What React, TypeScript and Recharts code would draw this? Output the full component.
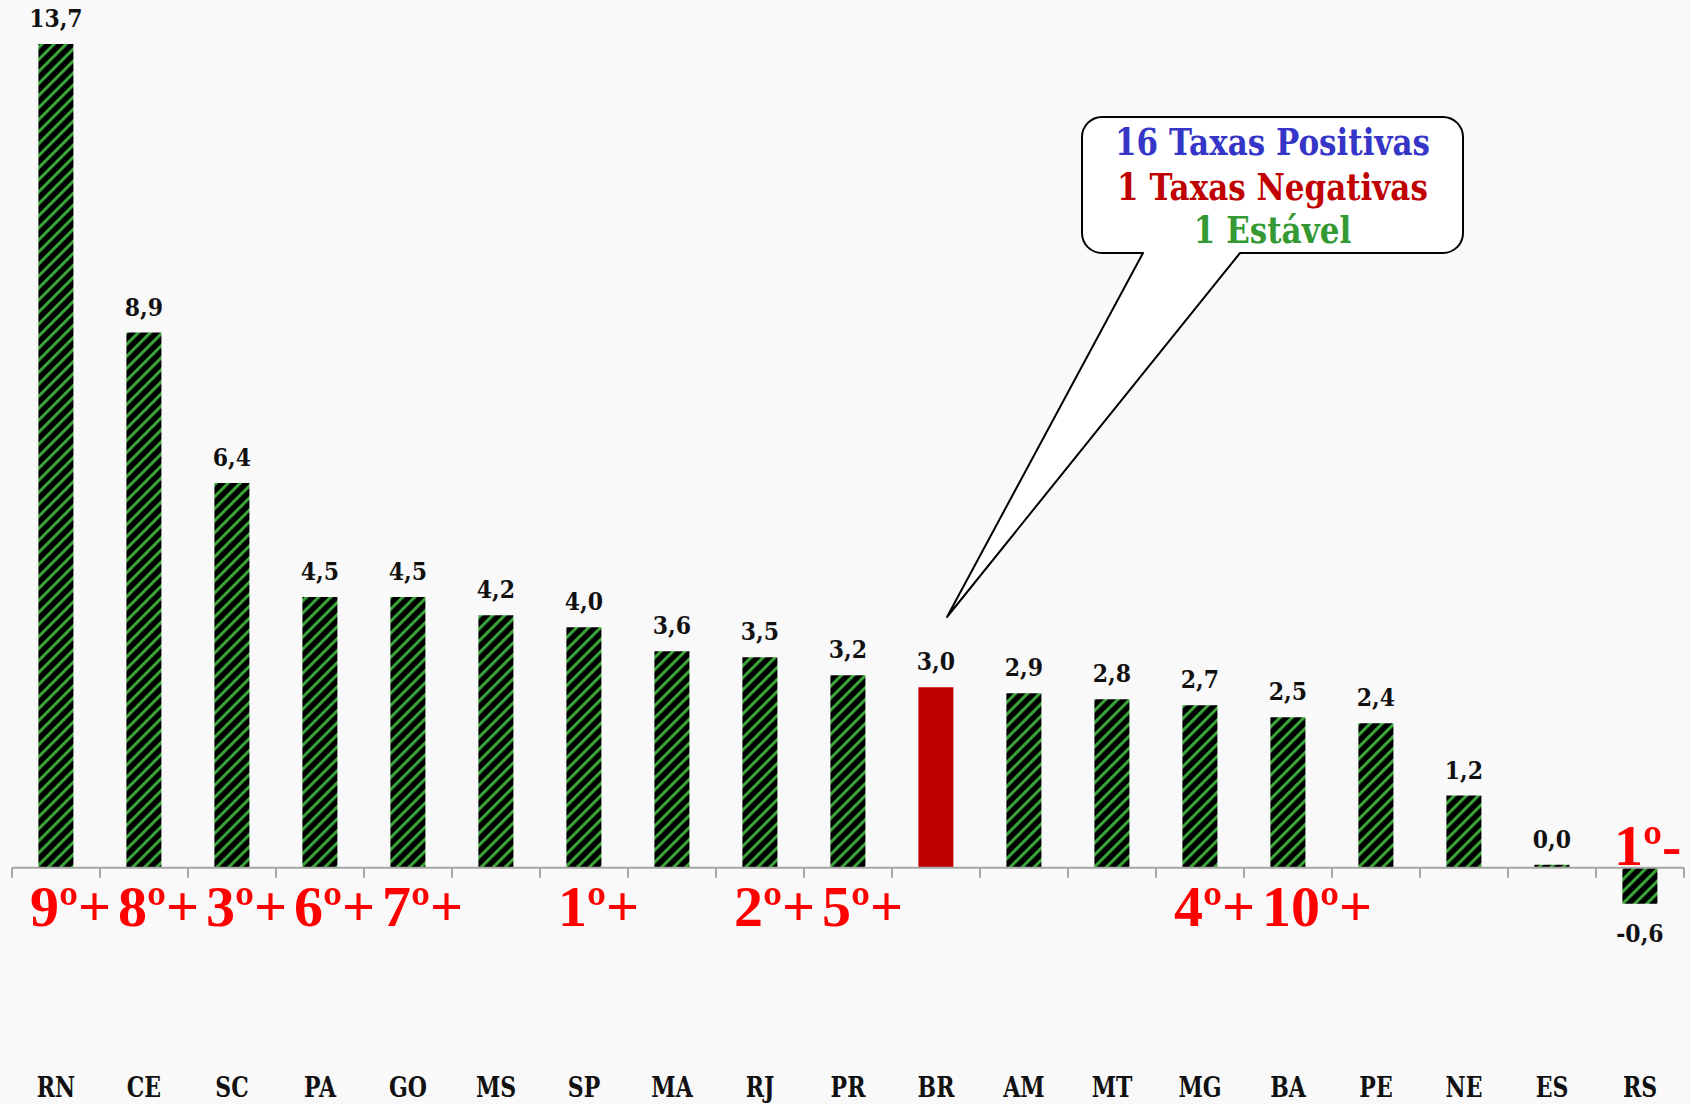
import React from 'react';
import { BarChart, Bar, XAxis, YAxis, Cell, LabelList, ReferenceLine } from 'recharts';

// Taxas por UF
const categories = ['RN', 'CE', 'SC', 'PA', 'GO', 'MS', 'SP', 'MA', 'RJ', 'PR', 'BR', 'AM', 'MT', 'MG', 'BA', 'PE', 'NE', 'ES', 'RS'];
const values = [13.7, 8.9, 6.4, 4.5, 4.5, 4.2, 4.0, 3.6, 3.5, 3.2, 3.0, 2.9, 2.8, 2.7, 2.5, 2.4, 1.2, 0.0, -0.6];
const ranks = ['9º+', '8º+', '3º+', '6º+', '7º+', '', '1º+', '', '2º+', '5º+', '', '', '', '4º+', '10º+', '', '', '', '1º-'];
const calloutLines = [
  { text: '16 Taxas Positivas', color: '#3535c8' },
  { text: '1 Taxas Negativas', color: '#c00000' },
  { text: '1 Estável', color: '#339933' },
];

const data = categories.map((uf, i) => ({ uf, taxa: values[i], rank: ranks[i] }));

const W = 1691;
const H = 1104;
const SERIF = "'DejaVu Serif', serif";

const fmt = (v: number) => v.toFixed(1).replace('.', ',');

// label props come through viewBox in recharts 3, plain props in older versions
const boxOf = (props: any) => {
  const vb = props.viewBox && props.viewBox.width !== undefined ? props.viewBox : props;
  const x = Number(vb.x);
  const y = Number(vb.y);
  const w = Number(vb.width);
  const h = Number(vb.height);
  return { cx: x + w / 2, top: Math.min(y, y + h), bottom: Math.max(y, y + h) };
};

const ValueLabel = (props: any) => {
  const i = categories.indexOf(props.value);
  if (i < 0) return null;
  const v = values[i];
  const { cx, top, bottom } = boxOf(props);
  const by = v < 0 ? bottom + 38 : top - 17;
  return (
    <g transform={`translate(${cx},${by}) scale(1,1.08)`}>
      <text textAnchor="middle" fontFamily={SERIF} fontWeight="bold" fontSize={22} fill="#111">
        {fmt(v)}
      </text>
    </g>
  );
};

const RankLabel = (props: any) => {
  const i = categories.indexOf(props.value);
  if (i < 0 || !ranks[i]) return null;
  const v = values[i];
  const { cx, top, bottom } = boxOf(props);
  const by = v < 0 ? top - 3 : bottom + 58;
  return (
    <text
      x={cx - 26}
      y={by}
      textAnchor="start"
      fontFamily="'Liberation Serif', serif"
      fontWeight="bold"
      fontSize={58}
      fill="#ff0000"
    >
      {ranks[i]}
    </text>
  );
};

const CategoryTick = ({ x, y, payload }: any) => (
  <g transform={`translate(${x},${y + 49}) scale(1,1.25)`}>
    <text textAnchor="middle" fontFamily={SERIF} fontWeight="bold" fontSize={22} fill="#111">
      {payload.value}
    </text>
  </g>
);

// zero line with tick marks at the category boundaries
const ZeroAxis = (props: any) => {
  const { x1, x2, y1 } = props;
  const step = (x2 - x1) / categories.length;
  return (
    <g>
      <line x1={x1} x2={x2} y1={y1} y2={y1} stroke="#a6a6a6" strokeWidth={2} />
      {categories.concat(['']).map((_, i) => (
        <line key={i} x1={x1 + i * step} x2={x1 + i * step} y1={y1} y2={y1 + 10} stroke="#a6a6a6" strokeWidth={2} />
      ))}
    </g>
  );
};

const Callout = () => {
  const x0 = 1082, y0 = 117, x1 = 1463, y1 = 253, r = 20;
  const d = [
    `M ${x0 + r} ${y0}`,
    `H ${x1 - r}`,
    `A ${r} ${r} 0 0 1 ${x1} ${y0 + r}`,
    `V ${y1 - r}`,
    `A ${r} ${r} 0 0 1 ${x1 - r} ${y1}`,
    `H 1240`,
    `L 947 617`,
    `L 1143 ${y1}`,
    `H ${x0 + r}`,
    `A ${r} ${r} 0 0 1 ${x0} ${y1 - r}`,
    `V ${y0 + r}`,
    `A ${r} ${r} 0 0 1 ${x0 + r} ${y0}`,
    'Z',
  ].join(' ');
  const cx = (x0 + x1) / 2;
  const baselines = [155, 200, 243];
  return (
    <svg width={W} height={H} style={{ position: 'absolute', left: 0, top: 0, pointerEvents: 'none' }}>
      <path d={d} fill="#ffffff" stroke="#000" strokeWidth={2} strokeLinejoin="round" />
      {calloutLines.map((l, i) => (
        <g key={i} transform={`translate(${cx},${baselines[i]}) scale(1,1.2)`}>
          <text textAnchor="middle" fontFamily={SERIF} fontWeight="bold" fontSize={31} fill={l.color}>
            {l.text}
          </text>
        </g>
      ))}
    </svg>
  );
};

export default function App() {
  return (
    <div style={{ position: 'absolute', left: 0, top: 0, width: W, height: H, background: '#f9f9f9' }}>
      <BarChart width={W} height={H} data={data} margin={{ top: 26, right: 7, left: 12, bottom: 0 }} barCategoryGap="30%">
        <defs>
          <pattern id="hatch" width={8.5} height={8.5} patternUnits="userSpaceOnUse" patternTransform="rotate(45)">
            <rect x={0} y={0} width={8.5} height={8.5} fill="#000" />
            <rect x={0} y={0} width={3} height={8.5} fill="#3aa63a" />
          </pattern>
        </defs>
        <XAxis
          dataKey="uf"
          axisLine={false}
          tickLine={false}
          tickSize={0}
          tickMargin={0}
          height={56}
          interval={0}
          tick={<CategoryTick />}
        />
        <YAxis hide type="number" domain={[-3, 14]} allowDataOverflow />
        <Bar dataKey="taxa" minPointSize={3} isAnimationActive={false}>
          {data.map((d) => (
            <Cell key={d.uf} fill={d.uf === 'BR' ? '#c00000' : 'url(#hatch)'} />
          ))}
          <LabelList dataKey="uf" content={<ValueLabel />} />
          <LabelList dataKey="uf" content={<RankLabel />} />
        </Bar>
        <ReferenceLine y={0} shape={(p: any) => <ZeroAxis {...p} />} />
      </BarChart>
      <Callout />
    </div>
  );
}
